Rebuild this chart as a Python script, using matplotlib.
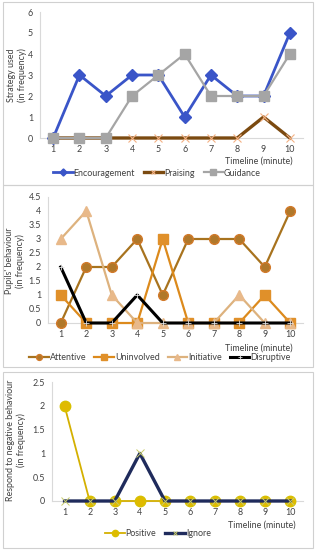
import matplotlib
matplotlib.use("Agg")
import matplotlib.pyplot as plt
from matplotlib.patches import Rectangle

plt.rcParams['font.family'] = ['Lato', 'DejaVu Sans']

W, H = 315, 550

minutes = [1, 2, 3, 4, 5, 6, 7, 8, 9, 10]

# Panel 1 - strategy used
encouragement = [0, 3, 2, 3, 3, 1, 3, 2, 2, 5]
praising = [0, 0, 0, 0, 0, 0, 0, 0, 1, 0]
guidance = [0, 0, 0, 2, 3, 4, 2, 2, 2, 4]

# Panel 2 - pupils' behaviour
attentive = [0, 2, 2, 3, 1, 3, 3, 3, 2, 4]
uninvolved = [1, 0, 0, 0, 3, 0, 0, 0, 1, 0]
initiative = [3, 4, 1, 0, 0, 0, 0, 1, 0, 0]
disruptive = [2, 0, 0, 1, 0, 0, 0, 0, 0, 0]

# Panel 3 - respond to negative behaviour
positive = [2, 0, 0, 0, 0, 0, 0, 0, 0, 0]
ignore = [0, 0, 0, 1, 0, 0, 0, 0, 0, 0]

y1_ticks = [0, 1, 2, 3, 4, 5, 6]
y2_ticks = [0, 0.5, 1, 1.5, 2, 2.5, 3, 3.5, 4, 4.5]
y3_ticks = [0, 0.5, 1, 1.5, 2, 2.5]

fig = plt.figure(figsize=(W / 100, H / 100), dpi=100)
fig.patch.set_facecolor("white")

FS = 6.4
AX_COL = "#D9D9D9"
TXT = "#404040"


def px_axes(x0, x1, ytop, ybot):
    return fig.add_axes([x0 / W, 1 - ybot / H, (x1 - x0) / W, (ybot - ytop) / H])


def box(x0, x1, ytop, ybot):
    fig.patches.append(Rectangle((x0 / W, 1 - ybot / H), (x1 - x0) / W, (ybot - ytop) / H,
                                 transform=fig.transFigure, fill=False,
                                 edgecolor="#D0D0D0", linewidth=0.8))


def style_axes(ax, yticks):
    ax.set_xlim(0.5, 10.5)
    ax.set_ylim(yticks[0], yticks[-1])
    ax.set_xticks(minutes)
    ax.set_yticks(yticks)
    ax.set_yticklabels([("%g" % t) for t in yticks])
    for s in ["top", "right"]:
        ax.spines[s].set_visible(False)
    ax.spines["left"].set_color(AX_COL)
    ax.spines["bottom"].set_color(AX_COL)
    ax.spines["left"].set_linewidth(0.8)
    ax.spines["bottom"].set_linewidth(0.8)
    ax.tick_params(length=0, labelsize=FS, colors=TXT, pad=5)
    ax.set_facecolor("none")
    for line in ax.get_lines():
        line.set_clip_on(False)


# boxes around each panel
box(3, 313, 2, 185)
box(3, 313, 185, 367)
box(3, 313, 372, 548)

# ---- panel 1 ----
ax1 = px_axes(40, 303, 12, 138)
ax1.plot(minutes, encouragement, color="#3A55C8", lw=2, marker="D", ms=6,
         mfc="#3A55C8", mec="#3A55C8", label="Encouragement", zorder=3)
ax1.plot(minutes, praising, color="#7B4A10", lw=2.4, marker="x", ms=6,
         mec="#F4B183", mew=0.8, label="Praising", zorder=4)
ax1.plot(minutes, guidance, color="#A5A5A5", lw=1.6, marker="s", ms=7,
         mfc="#A5A5A5", mec="#A5A5A5", label="Guidance", zorder=5)
style_axes(ax1, y1_ticks)
fig.text(17 / W, 1 - 75 / H, "Strategy used\n(in frequency)", rotation=90,
         ha="center", va="center", fontsize=FS, color=TXT, linespacing=1.1)
fig.text(293 / W, 1 - 161 / H, "Timeline (minute)", ha="right", va="center",
         fontsize=FS, color=TXT)
fig.legend(handles=ax1.get_lines(), loc="center", bbox_to_anchor=(157 / W, 1 - 173 / H),
           ncol=3, frameon=False, fontsize=FS, handlelength=2.2, handletextpad=0.1,
           columnspacing=1.0, labelcolor=TXT, markerscale=0.6)

# ---- panel 2 ----
ax2 = px_axes(48, 303, 197, 323)
ax2.plot(minutes, attentive, color="#A8731E", lw=1.6, marker="o", ms=7,
         mfc="#B0782A", mec="#D27A2A", label="Attentive", zorder=3)
ax2.plot(minutes, uninvolved, color="#DC8A1C", lw=1.6, marker="s", ms=7,
         mfc="#E0902A", mec="#E0902A", label="Uninvolved", zorder=4)
ax2.plot(minutes, initiative, color="#DDB27E", lw=1.6, marker="^", ms=7,
         mfc="#E8B98A", mec="#E8B98A", label="Initiative", zorder=5)
ax2.plot(minutes, disruptive, color="black", lw=2.2, marker="+", ms=4,
         mec="#DDDDDD", mew=0.6, label="Disruptive", zorder=6)
style_axes(ax2, y2_ticks)
fig.text(15 / W, 1 - 261 / H, "Pupils' behaviour\n(in frequency)", rotation=90,
         ha="center", va="center", fontsize=FS, color=TXT, linespacing=1.1)
fig.text(293 / W, 1 - 348 / H, "Timeline (minute)", ha="right", va="center",
         fontsize=FS, color=TXT)
fig.legend(handles=ax2.get_lines(), loc="center", bbox_to_anchor=(160 / W, 1 - 358 / H),
           ncol=4, frameon=False, fontsize=FS, handlelength=2.2, handletextpad=0.1,
           columnspacing=0.9, labelcolor=TXT, markerscale=0.6)

# ---- panel 3 ----
ax3 = px_axes(52, 303, 382, 501)
ax3.plot(minutes, positive, color="#D4B000", lw=1.3, marker="o", ms=7.5,
         mfc="#E0BA00", mec="#D8C000", label="Positive", zorder=3)
ax3.plot(minutes, ignore, color="#1F2B5C", lw=2.4, marker="x", ms=6,
         mec="#C8CC6A", mew=0.7, label="Ignore", zorder=4)
style_axes(ax3, y3_ticks)
fig.text(16 / W, 1 - 440 / H, "Respond to negative behaviour\n(in frequency)", rotation=90,
         ha="center", va="center", fontsize=FS, color=TXT, linespacing=1.1)
fig.text(296 / W, 1 - 525 / H, "Timeline (minute)", ha="right", va="center",
         fontsize=FS, color=TXT)
fig.legend(handles=ax3.get_lines(), loc="center", bbox_to_anchor=(158 / W, 1 - 534 / H),
           ncol=2, frameon=False, fontsize=FS, handlelength=2.2, handletextpad=0.1,
           columnspacing=1.0, labelcolor=TXT, markerscale=0.6)

fig.savefig("out.png", dpi=100)
